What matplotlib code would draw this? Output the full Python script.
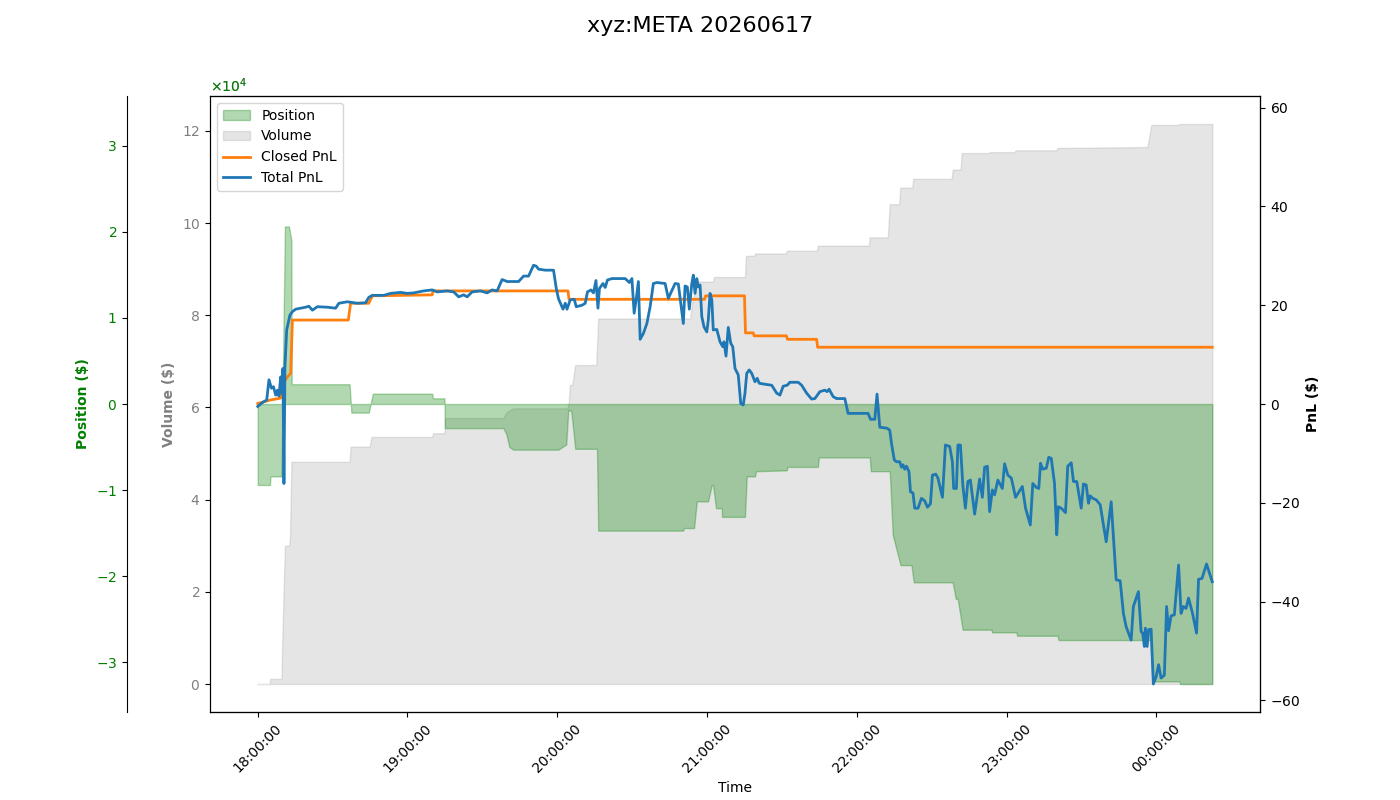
import numpy as np
import pandas as pd
import matplotlib
matplotlib.use("Agg")
import matplotlib.pyplot as plt
import matplotlib.dates as mdates

# session start; all series are minutes after this
start = pd.Timestamp("2026-06-16 18:00:00")

# cumulative traded volume ($)
vol_t = [0, 4.8, 5.0, 9.5, 10.0, 10.9, 12.5, 12.9, 13.5, 36.8, 37.2, 44.8, 45.6, 69.9, 70.2,
         74.8, 75.0, 98.4, 99.6, 102.4, 124.0, 124.6, 125.0, 126.0, 127.2, 135.6, 136.4,
         173.2, 174.0, 176.0, 182.4, 182.8, 195.2, 195.6, 198.8, 199.2, 211.6, 212.0, 224.0,
         224.4, 244.8, 245.2, 252.4, 253.2, 257.0, 257.4, 262.2, 262.6, 278.0, 278.4, 281.6,
         282.0, 292.8, 293.2, 303.2, 303.6, 320.0, 320.4, 356.4, 358.0, 368.8, 369.2, 382.4]
vol_v = [0, 0, 1100, 1100, 13000, 30000, 30000, 31200, 48200, 48200, 51500, 51500, 53600,
         53600, 54400, 54400, 57700, 57700, 59000, 59800, 59800, 60900, 64900, 64900, 69200,
         69200, 79300, 79300, 82600, 87300, 87300, 88300, 88300, 92900, 92900, 93400, 93400,
         94000, 94000, 95100, 95100, 96900, 96900, 104100, 104100, 107700, 107700, 109600,
         109600, 111600, 111600, 115200, 115200, 115400, 115400, 115800, 115800, 116300,
         116500, 121300, 121300, 121500, 121500]

# net position ($)
pos_t = [0, 4.9, 5.1, 9.5, 10.9, 12.5, 13.5, 13.6, 36.8, 37.5, 44.5, 46.1, 69.9, 70.2, 74.8,
         75.0, 98.4, 99.6, 100.8, 102.4, 120.4, 123.6, 124.4, 125.6, 127.2, 135.9, 136.4,
         170.4, 170.8, 174.8, 175.9, 180.4, 181.9, 182.4, 183.6, 185.9, 186.0, 195.2, 195.9,
         199.2, 199.6, 211.9, 212.2, 224.4, 224.8, 245.2, 245.6, 253.2, 254.4, 257.5, 261.9,
         262.8, 278.4, 279.6, 280.4, 282.4, 293.9, 294.2, 303.9, 304.2, 320.4, 320.8, 357.6,
         358.4, 369.2, 369.6, 382.4]
pos_v = [-9400, -9400, -8400, -8400, 20600, 20600, 19000, 2300, 2300, -1000, -1000, 1200,
         1200, 660, 660, -2800, -2800, -3500, -5000, -5300, -5300, -4700, -700, -800, -5200,
         -5200, -14700, -14700, -14400, -14400, -11300, -11300, -9400, -9400, -12100, -12100,
         -13100, -13100, -8400, -8400, -7800, -7700, -7300, -7300, -6200, -6200, -7800, -7800,
         -15200, -18700, -18700, -20700, -20700, -22600, -22600, -26200, -26200, -26500,
         -26500, -26900, -26900, -27400, -27400, -32200, -32200, -32500, -32500]

# realised PnL ($)
closed_t = [0, 5, 9.2, 10.6, 11.9, 13.2, 13.9, 36.3, 37.2, 44.5, 45.9, 69.9, 70.2, 124.3,
            124.7, 179.0, 179.4, 195.0, 195.4, 198.5, 198.9, 211.8, 212.2, 223.9, 224.3, 382.4]
closed_v = [0.1, 0.8, 1.2, 4.5, 5.5, 6.2, 17.0, 17.0, 20.4, 20.4, 21.9, 22.1, 22.9, 22.9,
            21.2, 21.2, 21.9, 21.9, 14.4, 14.4, 13.8, 13.8, 13.1, 13.1, 11.5, 11.5]

# total (realised + unrealised) PnL ($)
total_t = [0.0, 1.9, 3.6, 4.5, 5.5, 6.3, 7.2, 7.9, 8.5, 9.2, 9.6, 10.1, 10.5, 10.9, 11.6, 12.9,
           13.9, 15.2, 17.2, 19.2, 20.5, 21.9, 23.9, 27.9, 31.2, 32.5, 35.9, 39.9, 43.2, 44.5,
           45.9, 50.5, 53.2, 57.2, 59.9, 62.5, 66.5, 69.9, 71.9, 75.9, 78.5, 80.5, 82.5, 83.9,
           85.9, 89.2, 91.9, 93.9, 95.9, 97.9, 99.9, 104.5, 106.5, 108.5, 110.5, 111.6, 112.5,
           115.2, 118.5, 119.6, 120.5, 122.3, 123.2, 123.9, 125.2, 126.8, 127.6, 129.9, 131.2,
           132.1, 133.5, 134.5, 135.5, 136.3, 136.9, 138.3, 139.2, 140.1, 141.9, 147.2, 148.9,
           149.9, 150.8, 151.6, 152.5, 153.2, 154.5, 155.9, 157.2, 158.5, 159.9, 163.2, 164.5,
           167.2, 168.5, 170.5, 171.2, 172.1, 172.9, 173.9, 174.5, 175.2, 175.9, 176.5, 177.2,
           177.9, 178.8, 179.9, 180.5, 181.2, 181.9, 182.5, 183.9, 185.2, 186.3, 186.8, 187.6,
           188.5, 189.5, 190.3, 191.2, 192.5, 193.5, 194.5, 195.2, 195.9, 196.9, 197.9, 199.2,
           200.1, 200.9, 203.2, 205.9, 207.9, 209.2, 210.5, 212.1, 213.2, 216.5, 217.9, 219.9,
           221.9, 223.2, 225.2, 227.2, 228.1, 228.9, 230.5, 231.9, 235.2, 236.5, 244.5, 245.5,
           247.2, 248.1, 249.2, 252.1, 253.2, 253.9, 255.0, 255.9, 257.2, 257.9, 258.5, 259.2,
           259.9, 260.9, 261.5, 262.5, 263.2, 264.5, 265.9, 267.2, 268.3, 269.5, 270.3, 271.6,
           272.5, 274.3, 275.5, 277.2, 278.3, 278.8, 279.9, 280.5, 281.5, 282.5, 283.5, 284.5,
           285.5, 287.2, 289.2, 290.3, 291.2, 292.3, 293.2, 294.3, 295.2, 296.5, 298.3, 299.2,
           300.5, 301.9, 303.6, 306.3, 307.6, 309.5, 310.5, 311.9, 312.9, 313.6, 314.5, 315.9,
           316.9, 317.9, 319.2, 320.1, 320.7, 321.9, 323.6, 324.5, 325.9, 326.8, 328.1, 329.9,
           330.8, 331.9, 332.8, 333.5, 334.5, 335.9, 337.5, 338.5, 339.9, 341.9, 342.8, 343.9,
           345.5, 346.8, 347.9, 349.9, 350.8, 352.8, 353.9, 354.5, 355.2, 355.6, 356.3, 356.9,
           357.9, 358.8, 359.9, 360.9, 361.9, 363.2, 364.1, 364.9, 365.9, 367.2, 368.9, 369.9,
           370.8, 371.9, 372.9, 374.5, 376.1, 376.9, 378.3, 380.1, 382.4]
total_v = [-0.5, 0.3, 0.8, 4.9, 3.2, 3.5, 1.8, 2.8, 1.6, 5.5, 2.2, 7.2, -16.1, 7.6, 15.0, 18.0,
           18.7, 19.2, 19.4, 19.6, 19.8, 19.0, 19.7, 19.6, 19.4, 20.4, 20.7, 20.4, 20.5, 21.6,
           22.0, 22.0, 22.4, 22.6, 22.4, 22.5, 22.9, 23.1, 22.7, 22.9, 22.7, 21.7, 22.1, 21.7,
           22.7, 22.9, 22.5, 23.1, 22.9, 25.2, 24.8, 24.8, 25.9, 25.9, 28.1, 27.9, 27.3, 27.1,
           27.1, 23.4, 21.3, 19.2, 20.4, 19.2, 21.1, 21.2, 19.7, 20.0, 20.4, 22.7, 23.1, 22.5,
           25.0, 19.4, 23.4, 24.4, 23.6, 25.1, 25.4, 25.4, 24.6, 25.4, 18.4, 21.1, 24.8, 13.1,
           14.3, 16.3, 19.7, 24.4, 24.6, 24.4, 21.4, 24.4, 24.3, 16.3, 23.9, 23.7, 19.2, 24.4,
           26.1, 22.4, 25.4, 23.7, 24.1, 17.7, 15.6, 14.6, 17.0, 22.4, 21.1, 15.0, 15.1, 12.6,
           11.6, 12.6, 9.7, 15.5, 12.3, 11.6, 7.2, 5.9, 0.1, -0.2, 2.2, 6.2, 6.9, 6.2, 4.5, 5.2,
           4.2, 4.0, 3.8, 2.2, 1.8, 3.6, 3.8, 4.4, 4.4, 3.8, 2.2, 1.0, 1.1, 2.5, 2.8, 2.5, 3.0,
           1.5, 1.1, 1.1, -1.9, -1.9, -3.1, -3.1, 2.0, -4.7, -4.9, -5.3, -8.0, -11.3, -11.7,
           -11.7, -12.8, -12.3, -13.2, -12.6, -13.7, -17.8, -18.0, -21.1, -21.1, -19.1, -19.6,
           -20.9, -20.2, -14.4, -14.2, -15.0, -18.9, -8.3, -8.6, -11.7, -17.1, -17.1, -8.3,
           -8.3, -16.6, -21.1, -15.7, -15.4, -22.3, -15.2, -18.9, -12.8, -12.6, -21.8, -17.4,
           -18.4, -15.4, -17.1, -12.1, -14.4, -15.0, -18.9, -16.7, -21.1, -24.5, -16.1, -16.9,
           -17.1, -12.0, -13.2, -13.0, -10.8, -11.0, -16.1, -26.5, -20.8, -21.1, -22.0, -12.6,
           -11.9, -15.7, -15.7, -21.1, -16.2, -16.4, -20.1, -18.6, -19.1, -19.4, -20.4, -23.5,
           -27.9, -19.8, -26.9, -35.6, -35.8, -42.4, -45.1, -47.8, -41.0, -38.0, -46.1, -46.4,
           -49.1, -45.4, -49.1, -45.7, -45.6, -56.7, -55.2, -52.8, -55.5, -54.9, -41.0, -45.9,
           -42.9, -42.7, -32.6, -42.4, -41.0, -41.4, -39.3, -42.4, -46.4, -35.5, -35.3, -32.4,
           -36.0]


def to_time(minutes):
    return (start + pd.to_timedelta(np.array(minutes), unit="min")).to_numpy()


plt.rcParams["axes.formatter.use_mathtext"] = True

fig, ax = plt.subplots(figsize=(14, 8))
fig.subplots_adjust(left=0.15)

# volume on the host axes
vol_fill = ax.fill_between(to_time(vol_t), 0, vol_v, color="gray", alpha=0.2, label="Volume")
ax.set_ylabel("Volume ($)", color="gray", fontweight="bold")
ax.tick_params(axis="y", labelcolor="gray")
ax.ticklabel_format(axis="y", style="sci", scilimits=(4, 4), useMathText=True)

# position on an extra left axis
ax_pos = ax.twinx()
ax_pos.spines["left"].set_position(("outward", 60))
ax_pos.spines["left"].set_visible(True)
ax_pos.yaxis.set_label_position("left")
ax_pos.yaxis.set_ticks_position("left")
pos_fill = ax_pos.fill_between(to_time(pos_t), 0, pos_v, color="green", alpha=0.3, label="Position")
lim = max(abs(v) for v in pos_v) * 1.1
ax_pos.set_ylim(-lim, lim)
ax_pos.set_ylabel("Position ($)", color="green", fontweight="bold")
ax_pos.tick_params(axis="y", labelcolor="green")
ax_pos.ticklabel_format(axis="y", style="sci", scilimits=(4, 4), useMathText=True)
ax_pos.yaxis.get_offset_text().set_color("green")

# PnL on the right
ax_pnl = ax.twinx()
l1, = ax_pnl.plot(to_time(closed_t), closed_v, color="tab:orange", lw=2, label="Closed PnL")
l2, = ax_pnl.plot(to_time(total_t), total_v, color="tab:blue", lw=2, label="Total PnL")
lim = max(abs(v) for v in total_v + closed_v) * 1.1
ax_pnl.set_ylim(-lim, lim)
ax_pnl.set_ylabel("PnL ($)", fontweight="bold")

ax.xaxis.set_major_locator(mdates.HourLocator())
ax.xaxis.set_major_formatter(mdates.DateFormatter("%H:%M:%S"))
plt.setp(ax.get_xticklabels(), rotation=45)
ax.set_xlabel("Time")

ax_pnl.legend(handles=[pos_fill, vol_fill, l1, l2], loc="upper left")
fig.suptitle("xyz:META 20260617", fontsize=16)

fig.savefig("out.png", dpi=100)
